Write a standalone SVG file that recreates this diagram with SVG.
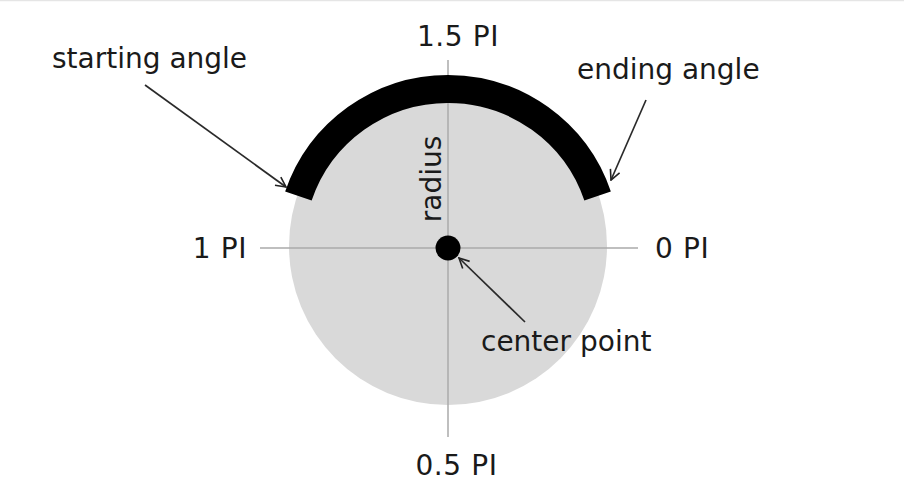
<svg xmlns="http://www.w3.org/2000/svg" width="904" height="496" viewBox="0 0 904 496">
<defs>
<marker id="open" viewBox="0 0 12 12" refX="11" refY="6" markerWidth="12" markerHeight="12" markerUnits="userSpaceOnUse" orient="auto">
<path d="M1,1 L11,6 L1,11" fill="none" stroke="#222" stroke-width="1.6"/>
</marker>
</defs>
<style>
text{font-family:"DejaVu Sans",Verdana,sans-serif;font-size:28px;fill:#1a1a1a}
.num{letter-spacing:0.6px}
.axis{stroke:#aaa;stroke-width:1.5;fill:none}
.conn{stroke:#2a2a2a;stroke-width:1.7;fill:none;marker-end:url(#open)}
</style>
<rect x="0" y="0" width="904" height="496" fill="#fff"/>
<line x1="0" y1="0.5" x2="904" y2="0.5" stroke="#e5e5e5" stroke-width="1.5"/>
<g id="circle"><circle cx="448" cy="246" r="159" fill="#d9d9d9"/></g>
<g id="axes">
<line class="axis" x1="260" y1="248" x2="638" y2="248"/>
<line class="axis" x1="448" y1="60" x2="448" y2="437"/>
</g>
<g id="arc"><path d="M298.4,196.1 A158 158 0 0 1 597.6,196.1" fill="none" stroke="#000" stroke-width="28"/></g>
<g id="center"><circle cx="448" cy="248" r="12.5" fill="#000"/></g>
<g id="labels">
<text class="num" x="458" y="46" text-anchor="middle">1.5 PI</text>
<text class="num" x="456.5" y="475" text-anchor="middle">0.5 PI</text>
<text class="num" x="247" y="258" text-anchor="end">1 PI</text>
<text class="num" x="655" y="258">0 PI</text>
<text x="52" y="68">starting angle</text>
<text x="577" y="79">ending angle</text>
<text x="481" y="351">center point</text>
<text transform="translate(441,179) rotate(-90)" text-anchor="middle">radius</text>
</g>
<g id="connectors">
<line class="conn" x1="145" y1="85" x2="286" y2="187"/>
<line class="conn" x1="646" y1="100" x2="611" y2="180"/>
<line class="conn" x1="525" y1="322" x2="459" y2="258"/>
</g>
</svg>
